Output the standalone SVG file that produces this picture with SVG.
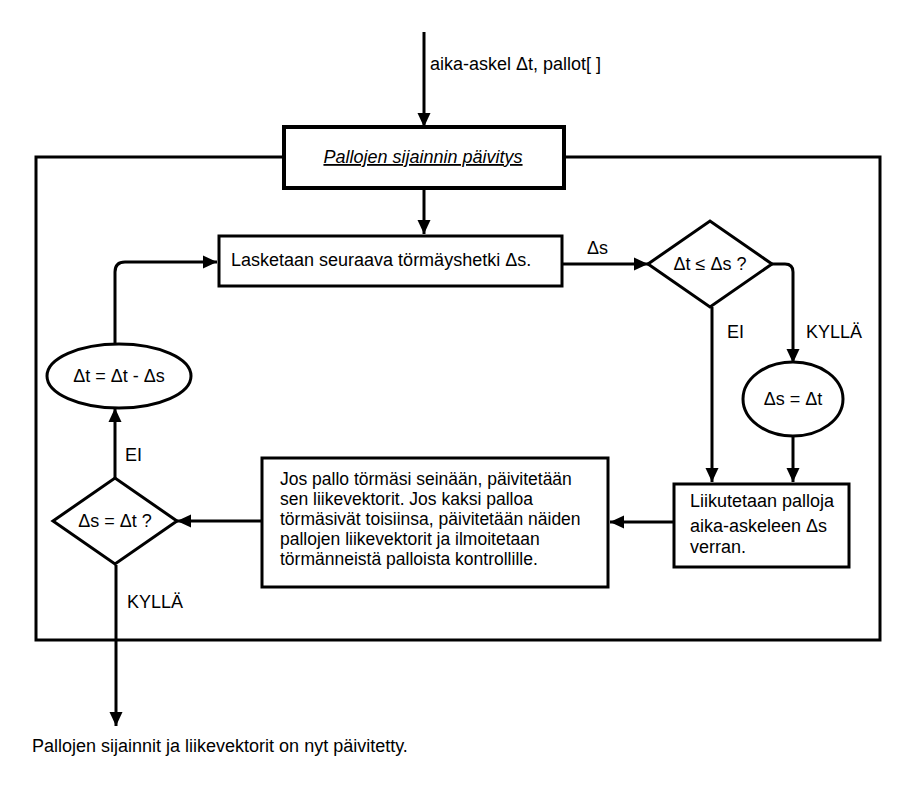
<svg xmlns="http://www.w3.org/2000/svg" width="900" height="800" viewBox="0 0 900 800">
<style>
text{font-family:"Liberation Sans",Arial,sans-serif;font-size:18px;fill:#000}
.jos{font-size:17.5px}
.box{fill:#fff;stroke:#000;stroke-width:3}
.frame{fill:none;stroke:#000;stroke-width:3}
.c{fill:none;stroke:#000;stroke-width:3}
.mid{text-anchor:middle}
</style>
<defs>
<marker id="arr" markerUnits="userSpaceOnUse" markerWidth="14" markerHeight="14" refX="14" refY="7" orient="auto">
<path d="M0,0.5 L14,7 L0,13.5 z" fill="#000"/>
</marker>
</defs>
<rect width="900" height="800" fill="#fff"/>
<rect id="frame" class="frame" x="36" y="157" width="844" height="483"/>
<g id="connectors">
<line class="c" x1="424" y1="32" x2="424" y2="127" marker-end="url(#arr)"/>
<line class="c" x1="424" y1="189" x2="424" y2="234" marker-end="url(#arr)"/>
<line class="c" x1="562" y1="264" x2="648" y2="264" marker-end="url(#arr)"/>
<path class="c" d="M772,264 H785 Q793,264 793,272 V363" marker-end="url(#arr)"/>
<line class="c" x1="712" y1="307" x2="712" y2="482" marker-end="url(#arr)"/>
<line class="c" x1="793" y1="436" x2="793" y2="482" marker-end="url(#arr)"/>
<line class="c" x1="673" y1="522" x2="610" y2="522" marker-end="url(#arr)"/>
<line class="c" x1="262" y1="521" x2="177" y2="521" marker-end="url(#arr)"/>
<line class="c" x1="115" y1="478" x2="115" y2="408" marker-end="url(#arr)"/>
<path class="c" d="M115,344 V272 Q115,262 125,262 H217" marker-end="url(#arr)"/>
<line class="c" x1="116" y1="565" x2="116" y2="726" marker-end="url(#arr)"/>
<text x="430" y="70">aika-askel Δt, pallot[ ]</text>
<text x="587" y="254">Δs</text>
<text x="727" y="338">EI</text>
<text x="806" y="338">KYLLÄ</text>
<text x="125" y="461">EI</text>
<text x="127" y="608">KYLLÄ</text>
</g>
<g id="paivitys">
<rect x="284" y="127" width="280" height="61" fill="#fff" stroke="#000" stroke-width="4"/>
<text class="mid" x="423" y="163" font-style="italic" text-decoration="underline">Pallojen sijainnin päivitys</text>
</g>
<g id="lasketaan">
<rect class="box" x="219" y="236" width="343" height="50"/>
<text x="231" y="266">Lasketaan seuraava törmäyshetki Δs.</text>
</g>
<g id="dtleds">
<path class="box" d="M648,264 L710,221 L772,264 L710,307 z"/>
<text class="mid" x="710" y="270">Δt ≤ Δs ?</text>
</g>
<g id="dseqdt">
<ellipse class="box" cx="793" cy="399" rx="50" ry="37"/>
<text class="mid" x="793" y="405">Δs = Δt</text>
</g>
<g id="liikutetaan">
<rect class="box" x="674" y="484" width="175" height="83"/>
<text x="690" y="507">Liikutetaan palloja</text>
<text x="690" y="532">aika-askeleen Δs</text>
<text x="690" y="553">verran.</text>
</g>
<g id="jos">
<rect class="box" x="262" y="458" width="346" height="129"/>
<text class="jos" x="280" y="485">Jos pallo törmäsi seinään, päivitetään</text>
<text class="jos" x="280" y="505">sen liikevektorit. Jos kaksi palloa</text>
<text class="jos" x="280" y="525">törmäsivät toisiinsa, päivitetään näiden</text>
<text class="jos" x="280" y="545">pallojen liikevektorit ja ilmoitetaan</text>
<text class="jos" x="280" y="565">törmänneistä palloista kontrollille.</text>
</g>
<g id="dseqdtq">
<path class="box" d="M53,521 L115,478 L177,521 L115,564 z"/>
<text class="mid" x="115" y="527">Δs = Δt ?</text>
</g>
<g id="dtupdate">
<ellipse class="box" cx="119" cy="376" rx="72" ry="32"/>
<text class="mid" x="119" y="382">Δt = Δt - Δs</text>
</g>
<g id="end">
<text x="32" y="752">Pallojen sijainnit ja liikevektorit on nyt päivitetty.</text>
</g>
</svg>
